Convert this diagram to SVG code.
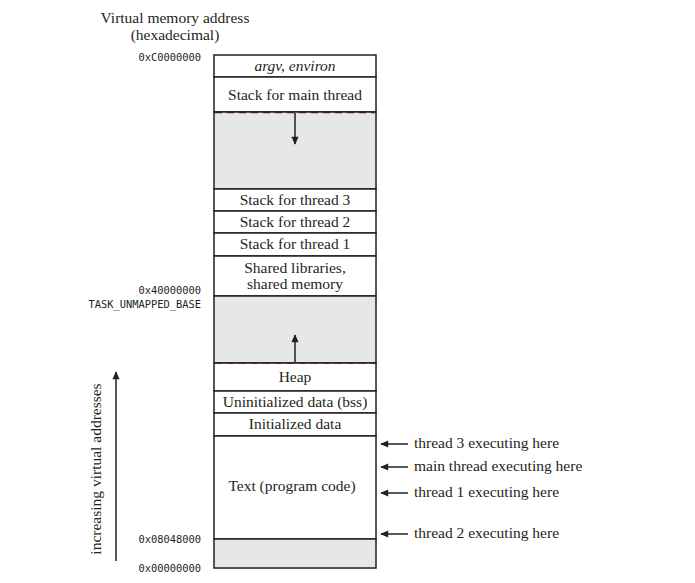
<svg xmlns="http://www.w3.org/2000/svg" width="695" height="583" viewBox="0 0 695 583">
<defs>
<style>
.seg{fill:#ffffff;stroke:#231f20;stroke-width:1.5}
.gray{fill:#e6e7e8;stroke:#231f20;stroke-width:1.5}
.lbl{font-family:"Liberation Serif","Times New Roman",serif;font-size:15.5px;fill:#231f20;text-anchor:middle}
.it{font-style:italic}
.mono{font-family:"DejaVu Sans Mono","Liberation Mono",monospace;font-size:10.4px;fill:#231f20;text-anchor:end}
.rl{font-family:"Liberation Serif","Times New Roman",serif;font-size:15.5px;fill:#231f20}
.ln{stroke:#231f20;stroke-width:1.5;fill:none}
.dash{stroke:#4a1c1e;stroke-width:1.6;stroke-dasharray:7 5;fill:none}
</style>
<marker id="ah" viewBox="0 0 10 10" refX="9" refY="5" markerWidth="12" markerHeight="8" markerUnits="userSpaceOnUse" orient="auto">
<path d="M0,0.5 L10,5 L0,9.5 Z" fill="#231f20"/>
</marker>
</defs>

<g id="title">
<text class="rl" x="175" y="23" text-anchor="middle">Virtual memory address</text>
<text class="rl" x="175" y="40" text-anchor="middle">(hexadecimal)</text>
</g>

<g id="addresses">
<text class="mono" x="201" y="61">0xC0000000</text>
<text class="mono" x="201" y="294">0x40000000</text>
<text class="mono" x="201" y="308">TASK_UNMAPPED_BASE</text>
<text class="mono" x="201" y="543">0x08048000</text>
<text class="mono" x="201" y="572">0x00000000</text>
</g>

<g id="seg-argv"><rect class="seg" x="214" y="55" width="162" height="22"/><text class="lbl it" x="295" y="71">argv, environ</text></g>
<g id="seg-mainstack"><rect class="seg" x="214" y="77" width="162" height="35"/><text class="lbl" x="295" y="100">Stack for main thread</text></g>
<g id="seg-gap1"><rect class="gray" x="214" y="112" width="162" height="77"/></g>
<g id="seg-t3"><rect class="seg" x="214" y="189" width="162" height="22"/><text class="lbl" x="295" y="205">Stack for thread 3</text></g>
<g id="seg-t2"><rect class="seg" x="214" y="211" width="162" height="22"/><text class="lbl" x="295" y="227">Stack for thread 2</text></g>
<g id="seg-t1"><rect class="seg" x="214" y="233" width="162" height="23"/><text class="lbl" x="295" y="249">Stack for thread 1</text></g>
<g id="seg-shared"><rect class="seg" x="214" y="256" width="162" height="40"/><text class="lbl" x="295" y="273">Shared libraries,</text><text class="lbl" x="295" y="289">shared memory</text></g>
<g id="seg-gap2"><rect class="gray" x="214" y="296" width="162" height="67"/></g>
<g id="seg-heap"><rect class="seg" x="214" y="363" width="162" height="28"/><text class="lbl" x="295" y="382">Heap</text></g>
<g id="seg-bss"><rect class="seg" x="214" y="391" width="162" height="22"/><text class="lbl" x="295" y="407">Uninitialized data (bss)</text></g>
<g id="seg-data"><rect class="seg" x="214" y="413" width="162" height="23"/><text class="lbl" x="295" y="429">Initialized data</text></g>
<g id="seg-text"><rect class="seg" x="214" y="436" width="162" height="103"/><text class="lbl" x="292" y="491">Text (program code)</text></g>
<g id="seg-low"><rect class="gray" x="214" y="539" width="162" height="29"/></g>

<g id="connectors">
<line class="dash" x1="215" y1="112.5" x2="375" y2="112.5"/>
<line class="dash" x1="215" y1="363" x2="375" y2="363"/>
<line class="ln" x1="295" y1="113" x2="295" y2="144" marker-end="url(#ah)"/>
<line class="ln" x1="295" y1="362" x2="295" y2="335" marker-end="url(#ah)"/>
<line class="ln" x1="116" y1="561" x2="116" y2="372" marker-end="url(#ah)"/>
<line class="ln" x1="408" y1="444" x2="381" y2="444" marker-end="url(#ah)"/>
<line class="ln" x1="408" y1="467" x2="381" y2="467" marker-end="url(#ah)"/>
<line class="ln" x1="408" y1="493" x2="381" y2="493" marker-end="url(#ah)"/>
<line class="ln" x1="408" y1="534" x2="381" y2="534" marker-end="url(#ah)"/>
</g>

<g id="side-labels">
<text class="rl" x="101" y="469" text-anchor="middle" transform="rotate(-90 101 469)">increasing virtual addresses</text>
<text class="rl" x="414" y="448">thread 3 executing here</text>
<text class="rl" x="414" y="471">main thread executing here</text>
<text class="rl" x="414" y="497">thread 1 executing here</text>
<text class="rl" x="414" y="538">thread 2 executing here</text>
</g>
</svg>
